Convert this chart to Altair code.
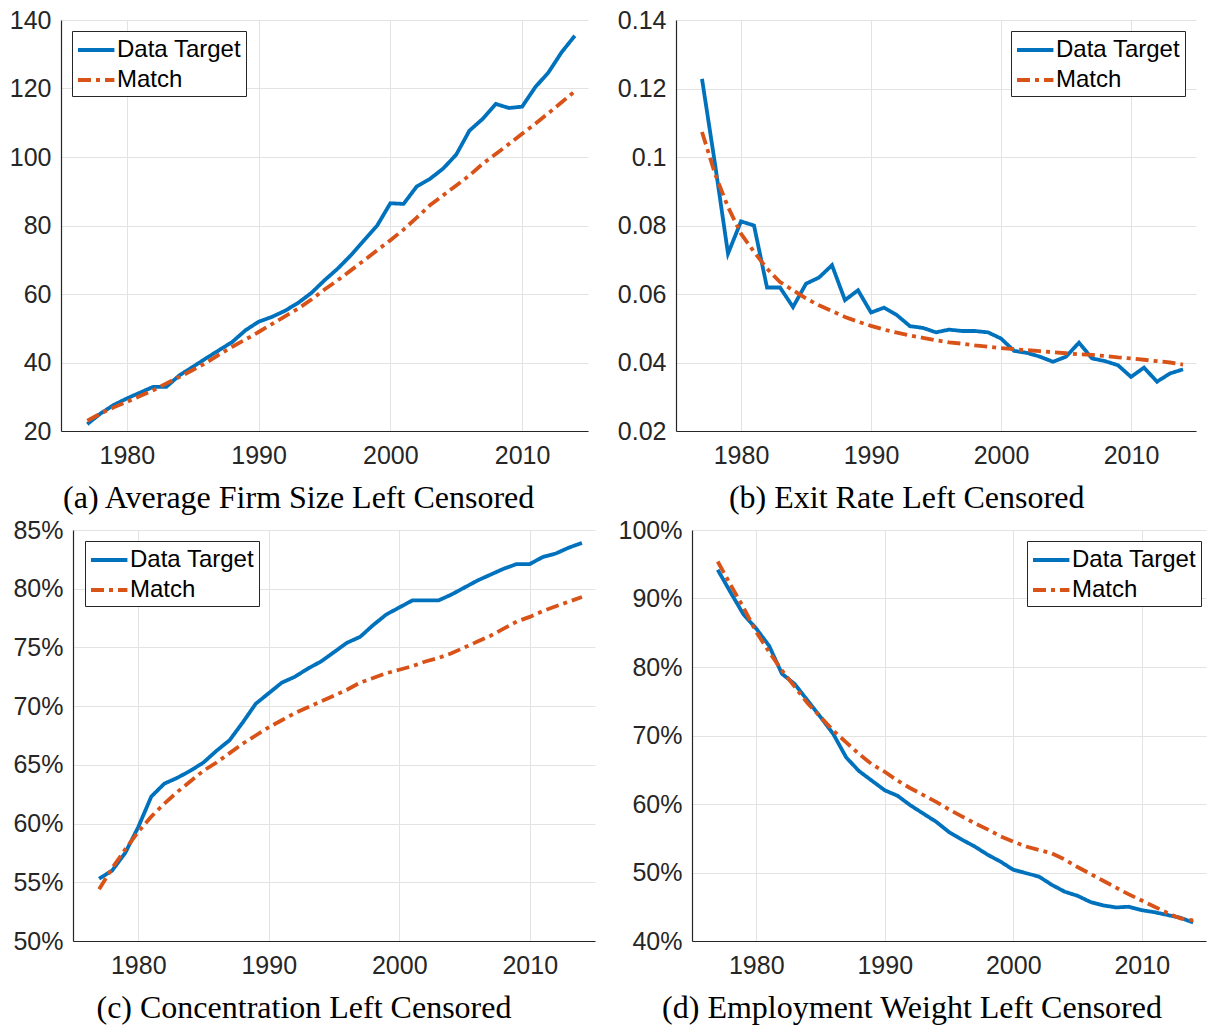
import altair as alt
import pandas as pd

years = list(range(1977, 2015))
series_names = ["Data Target", "Match"]

firm_size_target = [22.0, 25.1, 27.6, 29.5, 31.2, 32.9, 32.9, 36.3, 38.7, 41.2, 43.6, 46.0, 49.4, 51.9,
                    53.3, 55.1, 57.4, 60.3, 64.0, 67.4, 71.3, 75.7, 80.0, 86.5, 86.3, 91.4, 93.6, 96.6,
                    100.7, 107.7, 111.1, 115.5, 114.3, 114.7, 120.4, 124.7, 130.6, 135.4]
firm_size_match = [23.0, 25.1, 26.9, 28.5, 30.2, 31.9, 33.9, 35.8, 37.8, 39.9, 42.3, 44.6, 46.7, 48.9,
                   51.2, 53.5, 55.7, 58.4, 61.3, 64.0, 66.9, 69.8, 72.8, 75.7, 78.8, 82.3, 85.9, 88.8,
                   91.7, 94.6, 98.0, 100.9, 103.8, 106.8, 109.7, 112.8, 116.0, 119.2]

exit_target = [0.1228, 0.0980, 0.0718, 0.0812, 0.0800, 0.0619, 0.0619, 0.0562, 0.0630, 0.0648, 0.0684,
               0.0582, 0.0611, 0.0546, 0.0560, 0.0538, 0.0506, 0.0501, 0.0488, 0.0496, 0.0492, 0.0492,
               0.0488, 0.0470, 0.0434, 0.0428, 0.0417, 0.0402, 0.0417, 0.0458, 0.0412, 0.0404, 0.0392,
               0.0358, 0.0385, 0.0344, 0.0368, 0.0380]
exit_match = [0.1073, 0.0951, 0.0854, 0.0776, 0.0723, 0.0674, 0.0635, 0.0611, 0.0587, 0.0567, 0.0550,
              0.0533, 0.0519, 0.0507, 0.0496, 0.0487, 0.0479, 0.0472, 0.0465, 0.0459, 0.0455, 0.0450,
              0.0446, 0.0442, 0.0439, 0.0436, 0.0433, 0.0430, 0.0427, 0.0424, 0.0422, 0.0419, 0.0415,
              0.0412, 0.0408, 0.0404, 0.0400, 0.0394]

conc_target = [55.3, 56.0, 57.5, 59.7, 62.3, 63.4, 63.9, 64.5, 65.2, 66.2, 67.1, 68.6, 70.2, 71.1, 72.0,
               72.5, 73.2, 73.8, 74.6, 75.4, 75.9, 76.9, 77.8, 78.4, 79.0, 79.0, 79.0, 79.5, 80.1, 80.7,
               81.2, 81.7, 82.1, 82.1, 82.7, 83.0, 83.5, 83.9]
conc_match = [54.4, 56.2, 57.8, 59.3, 60.6, 61.7, 62.7, 63.6, 64.5, 65.2, 66.0, 66.8, 67.5, 68.2, 68.8,
              69.4, 69.9, 70.4, 70.9, 71.4, 72.0, 72.4, 72.8, 73.1, 73.4, 73.8, 74.1, 74.5, 75.0, 75.5,
              76.0, 76.6, 77.2, 77.6, 78.1, 78.5, 78.9, 79.3]

emp_target = [94.2, 90.9, 87.7, 85.6, 83.1, 79.0, 77.5, 75.1, 72.7, 70.2, 66.8, 64.8, 63.4, 62.0, 61.2,
              59.8, 58.6, 57.4, 55.9, 54.8, 53.8, 52.6, 51.6, 50.4, 49.9, 49.4, 48.2, 47.2, 46.6, 45.7,
              45.2, 44.9, 45.0, 44.5, 44.2, 43.8, 43.4, 42.7]
emp_match = [95.4, 92.0, 88.7, 85.1, 82.2, 79.5, 77.1, 74.7, 72.7, 70.7, 69.0, 67.3, 65.8, 64.7, 63.4,
             62.3, 61.3, 60.3, 59.2, 58.2, 57.2, 56.3, 55.3, 54.5, 53.8, 53.3, 52.8, 51.9, 50.8, 49.8,
             48.8, 47.8, 46.8, 45.9, 45.0, 44.1, 43.3, 43.0]

x_ticks = [1980, 1990, 2000, 2010]

BLUE = "#0072BD"
ORANGE = "#D95319"
SANS = "Liberation Sans"
SERIF = "Liberation Serif"


def long_df(target, match, scale=1.0):
    rows = []
    for y, t, m in zip(years, target, match):
        rows.append({"year": y, "value": t / scale, "series": series_names[0]})
        rows.append({"year": y, "value": m / scale, "series": series_names[1]})
    return pd.DataFrame(rows)


def panel(df, caption, ydomain, yvalues, yformat, legend_orient, width, shift=0, legend_x=None):
    legend_kw = dict(
        title=None, padding=4,
        strokeColor="#262626", fillColor="white",
        labelFont=SANS, labelFontSize=24, labelColor="black", labelOffset=11,
        symbolType="M-1,0H1.8", symbolSize=676, symbolStrokeWidth=4,
        rowPadding=3, cornerRadius=0,
    )
    if legend_orient == "none":
        legend = alt.Legend(orient="none", legendX=legend_x, legendY=11, **legend_kw)
    else:
        legend = alt.Legend(orient=legend_orient, offset=11, **legend_kw)
    if shift:
        xscale = alt.Scale(domain=[1975, 2015], nice=False, zero=False, range=[shift, width + shift])
        yaxis = alt.Axis(values=yvalues, format=yformat, title=None, offset=-shift)
    else:
        xscale = alt.Scale(domain=[1975, 2015], nice=False, zero=False)
        yaxis = alt.Axis(values=yvalues, format=yformat, title=None)
    return alt.Chart(df).mark_line(strokeWidth=3.8, clip=True).encode(
        x=alt.X("year:Q", scale=xscale, axis=alt.Axis(values=x_ticks, format="d", title=None)),
        y=alt.Y("value:Q", scale=alt.Scale(domain=ydomain, nice=False, zero=False), axis=yaxis),
        color=alt.Color("series:N", scale=alt.Scale(domain=series_names, range=[BLUE, ORANGE]),
                        legend=legend),
        strokeDash=alt.StrokeDash("series:N",
                                  scale=alt.Scale(domain=series_names, range=[[1, 0], [13, 5, 4, 5]]),
                                  legend=legend),
        order=alt.Order("year:Q"),
    ).properties(
        width=width + shift, height=411,
        title=alt.TitleParams(caption, orient="bottom", anchor="middle", frame="bounds",
                              font=SERIF, fontSize=32, fontWeight="normal", color="black", offset=15),
    )


pa = panel(long_df(firm_size_target, firm_size_match), "(a) Average Firm Size Left Censored",
           [20, 140], [20, 40, 60, 80, 100, 120, 140], "d", "top-left", 527)
pb = panel(long_df(exit_target, exit_match), "(b) Exit Rate Left Censored",
           [0.02, 0.14], [0.02, 0.04, 0.06, 0.08, 0.1, 0.12, 0.14], ".2~f", "top-right", 520)
pc = panel(long_df(conc_target, conc_match, 100.0), "(c) Concentration Left Censored",
           [0.5, 0.85], [0.5, 0.55, 0.6, 0.65, 0.7, 0.75, 0.8, 0.85], ".0%", "none", 522,
           shift=12, legend_x=24)
pd_ = panel(long_df(emp_target, emp_match, 100.0), "(d) Employment Weight Left Censored",
            [0.4, 1.0], [0.4, 0.5, 0.6, 0.7, 0.8, 0.9, 1.0], ".0%", "none", 514, legend_x=335)


def row(left, right, gap):
    return alt.hconcat(left, right, spacing=gap).resolve_scale(
        color="independent", strokeDash="independent"
    ).resolve_legend(color="independent", strokeDash="independent")


chart = alt.vconcat(row(pa, pb, 29), row(pc, pd_, 23), spacing=4).resolve_scale(
    color="independent", strokeDash="independent"
).resolve_legend(color="independent", strokeDash="independent").properties(
    padding={"left": 9, "top": 8, "right": 5, "bottom": 5},
    background="white",
).configure_view(stroke=None).configure_axis(
    labelFont=SANS, labelFontSize=25, labelColor="#262626",
    domainColor="#262626", domainWidth=1.2,
    grid=True, gridColor="#e3e3e3", gridWidth=1,
    ticks=False, labelPadding=10,
).configure_axisX(labelPadding=12)

chart.save("out.html", embed_options={"renderer": "svg", "actions": False})
